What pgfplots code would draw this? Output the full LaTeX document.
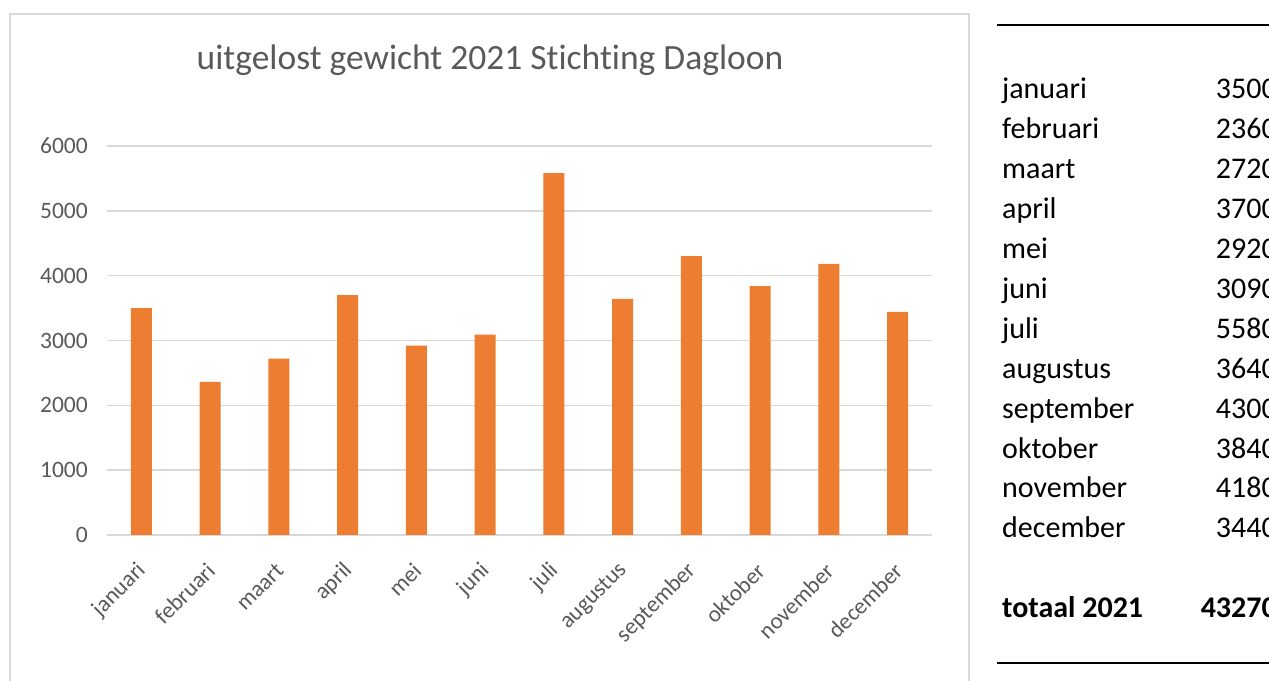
\documentclass[border=0pt]{standalone}
\usepackage{pgfplots}
\pgfplotsset{compat=1.18}
\usepackage{fontspec}
\setmainfont{Carlito}[Ligatures={NoCommon}]
\definecolor{barc}{HTML}{ED7D31}
\definecolor{gridc}{HTML}{D9D9D9}
\definecolor{txt}{HTML}{595959}
\pgfplotstableread{
idx val
0 3500
1 2360
2 2720
3 3700
4 2920
5 3090
6 5580
7 3640
8 4300
9 3840
10 4180
11 3440
}\datatable
\begin{document}
\begin{tikzpicture}[x=1bp,y=1bp]
\useasboundingbox (0,0) rectangle (1269,681);
\draw[gridc, line width=2bp] (10,-10) -- (10,667) -- (969,667) -- (969,-10);
\node[txt, font=\fontsize{35.5bp}{40bp}\selectfont] at (490,621) {uitgelost gewicht 2021 Stichting Dagloon};
\begin{axis}[
  at={(107bp,146bp)}, anchor=south west,
  scale only axis, width=825bp, height=389bp,
  xmin=-0.5, xmax=11.5, ymin=0, ymax=6000,
  axis line style={draw=none},
  ymajorgrids, grid style={gridc, line width=1.5bp},
  major tick length=0pt,
  ytick={0,1000,...,6000},
  xtick={0,...,11},
  xticklabels={januari,februari,maart,april,mei,juni,juli,augustus,september,oktober,november,december},
  /pgf/number format/assume math mode=true,
  /pgf/number format/1000 sep={},
  yticklabel style={font=\fontsize{23.5bp}{26bp}\selectfont, text=txt, inner sep=0pt, xshift=-19bp},
  xticklabel style={font=\fontsize{23bp}{26bp}\selectfont, text=txt, inner sep=0pt, xshift=1bp, yshift=-32bp, rotate=45, anchor=east},
  ybar, bar width=21bp,
  clip=false,
]
\addplot[fill=barc, draw=none] table[x=idx, y=val] {\datatable};
\end{axis}
\begin{scope}[font=\fontsize{30bp}{34bp}\selectfont]
\draw[line width=2bp] (997,656) -- (1269,656);
\draw[line width=2bp] (997,18) -- (1269,18);
\foreach \m/\v [count=\i from 0] in {januari/3500,februari/2360,maart/2720,april/3700,mei/2920,juni/3090,juli/5580,augustus/3640,september/4300,oktober/3840,november/4180,december/3440}{
  \node[anchor=base west, inner sep=0pt] at (1002, 681-99-39.9*\i) {\m};
  \node[anchor=base east, inner sep=0pt] at (1277, 681-99-39.9*\i) {\v};
}
\node[anchor=base west, inner sep=0pt] at (1002, 681-618) {\bfseries totaal 2021};
\node[anchor=base east, inner sep=0pt] at (1277, 681-618) {\bfseries 43270};
\end{scope}
\end{tikzpicture}
\end{document}
